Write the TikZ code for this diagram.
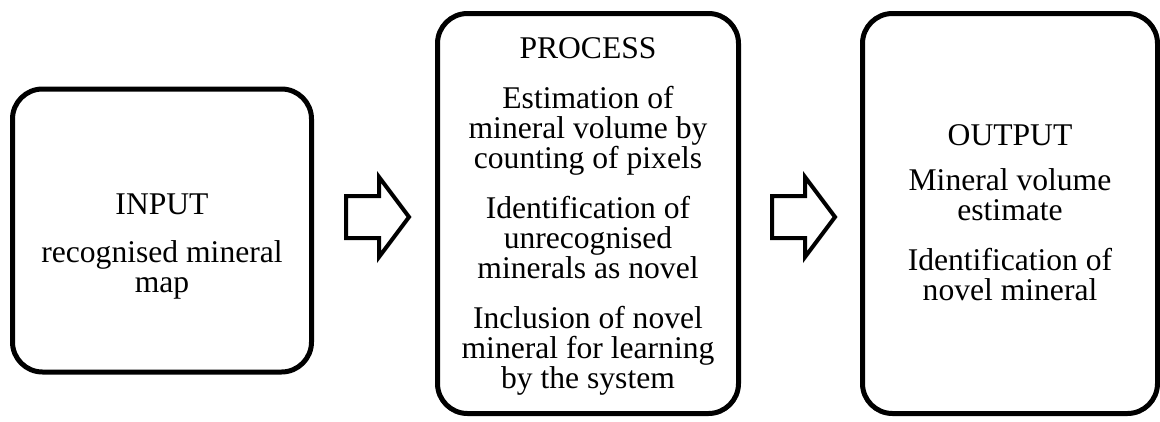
\documentclass[tikz,border=0pt]{standalone}
\usepackage{fontspec}
\setmainfont{Liberation Serif}
\begin{document}
\begin{tikzpicture}[x=1pt, y=-1pt,
  stage/.style={draw=black, line width=5pt, rounded corners=30pt, inner sep=0pt},
  label/.style={anchor=north, inner sep=0pt, align=center,
    font={\fontsize{31.6}{30}\selectfont\lineskiplimit=-20pt}},
  blockarrow/.pic={
    \draw[line width=4pt, line join=miter]
      (0,-21) -- (33,-21) -- (33,-40) -- (63,0) -- (33,40) -- (33,21) -- (0,21) -- cycle;
  }]
  \useasboundingbox (0,0) rectangle (1160,421);

  % the three stages
  \node[stage, minimum width=299pt, minimum height=283pt] (input)   at (162,230.5) {};
  \node[stage, minimum width=301pt, minimum height=400pt] (process) at (588,213.5) {};
  \node[stage, minimum width=295pt, minimum height=400pt] (output)  at (1010,213.5) {};

  % stage texts
  \node[label] (tin) at (162,194)
    {INPUT\\[18pt] recognised mineral\\ map};
  \node[label] (tproc) at (588,37)
    {PROCESS\\[20pt] Estimation of\\ mineral volume by\\ counting of pixels\\[20pt]
     Identification of\\ unrecognised\\ minerals as novel\\[20pt]
     Inclusion of novel\\ mineral for learning\\ by the system};
  \node[label] (tout) at (1010,124)
    {OUTPUT\\[15pt] Mineral volume\\ estimate\\[20pt] Identification of\\ novel mineral};

  % block arrows between the stages
  \pic (arrowA) at (346,217) {blockarrow};
  \pic (arrowB) at (772,217) {blockarrow};
\end{tikzpicture}
\end{document}
